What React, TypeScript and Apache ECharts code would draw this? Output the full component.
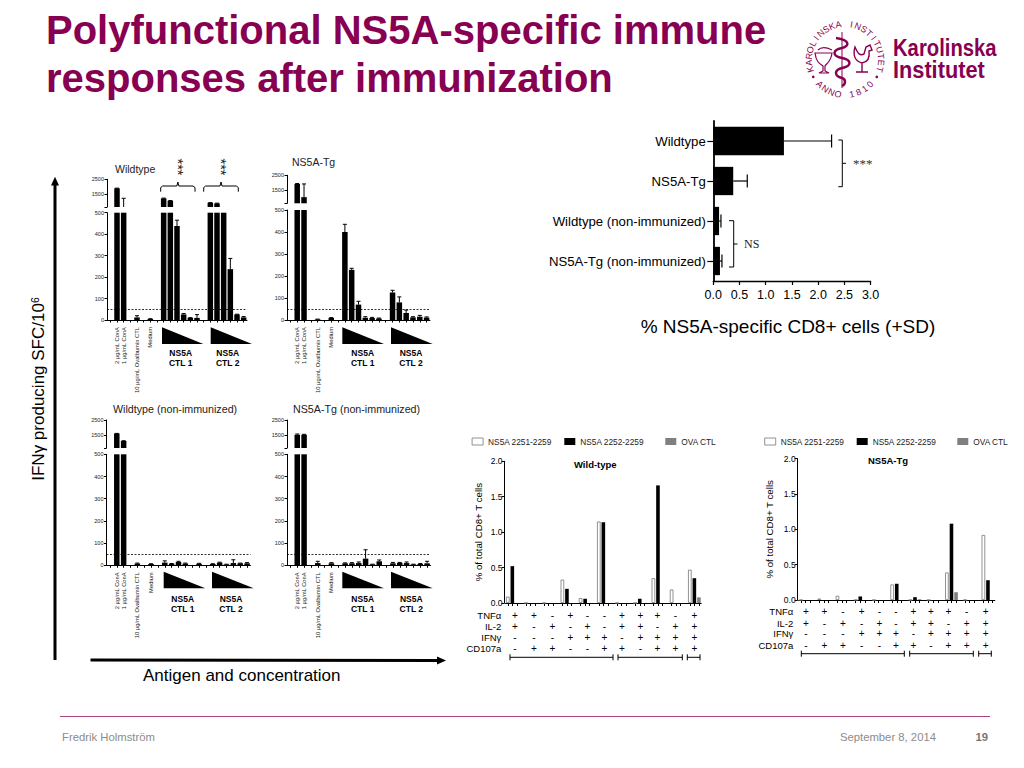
import React, { useEffect, useRef } from "react";
import * as echarts from "echarts";

// ---------- Data ----------
const panelCategories = ["", "2 µg/mL ConA", "1 µg/mL ConA", "", "10 µg/mL Ovalbumin CTL", "", "Medium", "", "c1", "c2", "c3", "c4", "c5", "c6", "", "d1", "d2", "d3", "d4", "d5", "d6"];
const wtValues = [0, 1890, 520, 0, 12, 0, 5, 0, 1207, 1045, 438, 26, 10, 10, 0, 908, 867, 540, 237, 26, 12];
const wtTops = [0, 1900, 1210, 0, 20, 0, 6, 0, 1225, 1060, 465, 30, 11, 25, 0, 920, 880, 620, 287, 27, 16];
const tgValues = [0, 1920, 1033, 0, 3, 0, 9, 0, 400, 228, 70, 10, 9, 7, 0, 125, 80, 32, 12, 15, 11];
const tgTops = [0, 1950, 1920, 0, 4, 0, 11, 0, 435, 235, 85, 15, 12, 9, 0, 135, 105, 45, 15, 21, 14];
const wtNiValues = [0, 1595, 1090, 0, 8, 0, 6, 0, 12, 7, 15, 8, 1, 7, 0, 6, 12, 4, 10, 9, 9];
const wtNiTops = [0, 1600, 1110, 0, 10, 0, 7, 0, 20, 8, 18, 10, 1, 9, 0, 7, 14, 5, 25, 10, 12];
const tgNiValues = [0, 1510, 1510, 0, 10, 0, 9, 0, 9, 9, 10, 30, 4, 18, 0, 9, 11, 10, 4, 6, 9];
const tgNiTops = [0, 1560, 1540, 0, 18, 0, 12, 0, 11, 12, 15, 70, 5, 24, 0, 13, 13, 15, 5, 8, 18];

const cd8Categories = ["Wildtype", "NS5A-Tg", "Wildtype (non-immunized)", "NS5A-Tg (non-immunized)"];
const cd8Values = [1.347, 0.38, 0.11, 0.127];
const cd8Tops = [2.256, 0.648, 0.146, 0.165];

const seriesNames = ["NS5A 2251-2259", "NS5A 2252-2259", "OVA CTL"];
const wildWhite = [0.09, 0, 0, 0.33, 0.07, 1.15, 0, 0, 0.35, 0.19, 0.47];
const wildBlack = [0.52, 0, 0, 0.2, 0.06, 1.14, 0, 0.06, 1.66, 0, 0.35];
const wildGray = [0, 0, 0, 0, 0, 0, 0, 0, 0, 0, 0.08];
const tgWhite = [0, 0.02, 0.06, 0, 0, 0.22, 0, 0, 0.39, 0, 0.92];
const tgBlack = [0, 0, 0, 0.05, 0, 0.23, 0.04, 0, 1.08, 0, 0.28];
const tgGray = [0, 0, 0, 0, 0, 0, 0.01, 0, 0.11, 0, 0];

const rowNames = ["TNFα", "IL-2", "IFNγ", "CD107a"];
const rowSigns = [
  ["+", "+", "-", "+", "-", "-", "+", "+", "+", "-", "+"],
  ["+", "-", "+", "-", "+", "-", "+", "+", "-", "+", "+"],
  ["-", "-", "-", "+", "+", "+", "-", "+", "+", "+", "+"],
  ["-", "+", "+", "-", "-", "+", "+", "-", "+", "+", "+"],
];

// ---------- Layout ----------
const FONT = "Liberation Sans";
const PLUM = "#870052";
const UP_MIN = 620;
const panelBoxes = [
  { v: wtValues, t: wtTops, left: 107, width: 140, upTop: 179.3, upBot: 207, loTop: 212.7, loBot: 320 },
  { v: tgValues, t: tgTops, left: 287, width: 143, upTop: 175.3, upBot: 203.3, loTop: 210, loBot: 320 },
  { v: wtNiValues, t: wtNiTops, left: 106.5, width: 144, upTop: 420, upBot: 448, loTop: 454.3, loBot: 565.3 },
  { v: tgNiValues, t: tgNiTops, left: 287, width: 143.5, upTop: 420, upBot: 448, loTop: 454.3, loBot: 565.3 },
];

const T = (text: string, x: number, y: number, size: number, o: any = {}) => ({
  type: "text",
  x,
  y,
  rotation: o.rotation || 0,
  scaleX: o.scaleX ?? 1,
  silent: true,
  style: {
    text,
    fontSize: size,
    fontFamily: o.family || FONT,
    fontWeight: o.weight || "normal",
    fill: o.fill || "#000",
    align: o.align || "left",
    verticalAlign: "middle",
    rich: o.rich,
  },
});
const P = (points: number[][], lineWidth = 1, stroke = "#000") => ({
  type: "polyline",
  silent: true,
  shape: { points },
  style: { stroke, fill: "none", lineWidth },
});
const F = (points: number[][], fill = "#000") => ({
  type: "polygon",
  silent: true,
  shape: { points },
  style: { fill },
});

function errV(params: any, api: any) {
  const a = api.coord([api.value(0), api.value(1)]);
  const b = api.coord([api.value(0), api.value(2)]);
  const s = { stroke: "#000", lineWidth: 1 };
  return {
    type: "group",
    children: [
      { type: "line", shape: { x1: a[0], y1: a[1], x2: b[0], y2: b[1] }, style: s },
      { type: "line", shape: { x1: b[0] - 2, y1: b[1], x2: b[0] + 2, y2: b[1] }, style: s },
    ],
  };
}
function errH(params: any, api: any) {
  const a = api.coord([api.value(0), api.value(1)]);
  const b = api.coord([api.value(2), api.value(1)]);
  const s = { stroke: "#000", lineWidth: 1.2 };
  return {
    type: "group",
    children: [
      { type: "line", shape: { x1: a[0], y1: a[1], x2: b[0], y2: b[1] }, style: s },
      { type: "line", shape: { x1: b[0], y1: b[1] - 6.5, x2: b[0], y2: b[1] + 6.5 }, style: s },
    ],
  };
}

function buildOption() {
  const grid: any[] = [];
  const xAxis: any[] = [];
  const yAxis: any[] = [];
  const series: any[] = [];
  const axisLine = { lineStyle: { color: "#000", width: 1 } };

  // small broken-axis panels
  panelBoxes.forEach((p) => {
    const iUp = grid.length;
    grid.push({ left: p.left, width: p.width, top: p.upTop, height: p.upBot - p.upTop });
    xAxis.push({ type: "category", gridIndex: iUp, data: panelCategories, show: false });
    yAxis.push({
      type: "value", gridIndex: iUp, min: UP_MIN, max: 2500, splitLine: { show: false },
      axisLine: { show: true, ...axisLine },
      axisTick: { show: true, length: 2.5, lineStyle: { color: "#000" }, customValues: [UP_MIN, 1500, 2500] },
      axisLabel: { fontSize: 5.5, margin: 3, color: "#222", customValues: [1500, 2500], fontFamily: FONT, formatter: (v: number) => String(v) },
    });
    const iLo = grid.length;
    grid.push({ left: p.left, width: p.width, top: p.loTop, height: p.loBot - p.loTop });
    xAxis.push({
      type: "category", gridIndex: iLo, data: panelCategories,
      axisLine: { show: true, ...axisLine },
      axisTick: { show: true, length: 2.5, alignWithLabel: true, interval: 0, lineStyle: { color: "#000" } },
      axisLabel: {
        interval: 0, rotate: 90, fontSize: 5.8, margin: 7, color: "#222", fontFamily: FONT,
        formatter: (v: string) => (/^[cd]\d$/.test(v) ? "" : v),
      },
    });
    yAxis.push({
      type: "value", gridIndex: iLo, min: 0, max: 500, interval: 100, splitLine: { show: false },
      axisLine: { show: true, ...axisLine },
      axisTick: { show: true, length: 2.5, lineStyle: { color: "#000" } },
      axisLabel: { fontSize: 5.5, margin: 3, color: "#222", fontFamily: FONT },
    });
    series.push({
      type: "bar", xAxisIndex: iUp, yAxisIndex: iUp, barWidth: 5.5, silent: true,
      itemStyle: { color: "#000" }, data: p.v.map((x) => (x > UP_MIN ? x : null)),
    });
    series.push({
      type: "custom", xAxisIndex: iUp, yAxisIndex: iUp, clip: true, silent: true, renderItem: errV,
      encode: { x: 0, y: [1, 2] },
      data: p.v.map((x, i) => [i, x, p.t[i]]).filter((d) => d[2] > UP_MIN),
    });
    series.push({
      type: "bar", xAxisIndex: iLo, yAxisIndex: iLo, barWidth: 5.5, silent: true,
      itemStyle: { color: "#000" }, data: p.v,
      markLine: {
        silent: true, symbol: "none", label: { show: false },
        lineStyle: { color: "#000", type: [2, 1.5], width: 0.8 }, data: [{ yAxis: 50 }],
      },
    });
    series.push({
      type: "custom", xAxisIndex: iLo, yAxisIndex: iLo, clip: true, silent: true, renderItem: errV,
      encode: { x: 0, y: [1, 2] },
      data: p.v.map((x, i) => [i, x, p.t[i]]).filter((d) => d[2] > d[1]),
    });
  });

  // % CD8 horizontal bars
  const iH = grid.length;
  grid.push({ left: 713.3, width: 157.3, top: 121, height: 160 });
  xAxis.push({
    type: "value", gridIndex: iH, min: 0, max: 3, interval: 0.5, splitLine: { show: false },
    axisLine: { show: true, lineStyle: { color: "#000", width: 1.3 } },
    axisTick: { show: true, length: 4, lineStyle: { color: "#000", width: 1.2 } },
    axisLabel: { fontSize: 12.5, margin: 7, color: "#000", fontFamily: FONT, formatter: (v: number) => v.toFixed(1) },
    name: "% NS5A-specific CD8+ cells (+SD)", nameLocation: "middle", nameGap: 36,
    nameTextStyle: { fontSize: 19, color: "#000", fontFamily: FONT, padding: [0, 8, 0, 0] },
  });
  yAxis.push({
    type: "category", gridIndex: iH, inverse: true, data: cd8Categories,
    axisLine: { show: true, lineStyle: { color: "#000", width: 1.8 } },
    axisTick: { show: true, length: 6, alignWithLabel: true, lineStyle: { color: "#000", width: 1.2 } },
    axisLabel: { fontSize: 13.2, margin: 7.5, color: "#000", fontFamily: FONT, interval: 0 },
  });
  series.push({
    type: "bar", xAxisIndex: iH, yAxisIndex: iH, barWidth: 28.3, silent: true,
    itemStyle: { color: "#000" }, data: cd8Values,
  });
  series.push({
    type: "custom", xAxisIndex: iH, yAxisIndex: iH, silent: true, renderItem: errH,
    encode: { x: [0, 2], y: 1 },
    data: cd8Values.map((v, i) => [v, i, cd8Tops[i]]),
  });

  // polyfunctionality grouped bars
  const slots = Array.from({ length: 43 }, (_, i) => String(i));
  const styles = [
    { color: "#fff", borderColor: "#777", borderWidth: 0.8 },
    { color: "#000" },
    { color: "#7f7f7f" },
  ];
  const addPoly = (left: number, width: number, top: number, bottom: number, sets: number[][], gap: number) => {
    const i = grid.length;
    grid.push({ left, width, top, height: bottom - top });
    xAxis.push({
      type: "category", gridIndex: i, data: slots,
      axisLine: { show: true, ...axisLine },
      axisTick: { show: true, length: 3, alignWithLabel: true, interval: (n: number) => n % 4 !== 3, lineStyle: { color: "#000" } },
      axisLabel: { show: false },
    });
    yAxis.push({
      type: "value", gridIndex: i, min: 0, max: 2, interval: 0.5, offset: 1, splitLine: { show: false },
      axisLine: { show: true, ...axisLine },
      axisTick: { show: true, length: 3, lineStyle: { color: "#000" } },
      axisLabel: { fontSize: 8.5, margin: 2, color: "#000", fontFamily: FONT, formatter: (v: number) => v.toFixed(1) },
      name: "% of total CD8+ T cells", nameLocation: "middle", nameGap: gap,
      nameTextStyle: { fontSize: 9.7, color: "#000", fontFamily: FONT },
    });
    sets.forEach((vals, k) => {
      const data = slots.map(() => null as number | null);
      vals.forEach((v, g) => { data[g * 4 + k] = v; });
      series.push({
        type: "bar", name: seriesNames[k], xAxisIndex: i, yAxisIndex: i, barWidth: 3.6, barGap: "-100%",
        silent: true, itemStyle: styles[k], data,
      });
    });
  };
  addPoly(505.5, 195.7, 461.3, 603, [wildWhite, wildBlack, wildGray], 21);
  addPoly(798.7, 196.1, 458.7, 600, [tgWhite, tgBlack, tgGray], 23);

  const lg = (name: string, left: number, k: number) => ({
    data: [name], left, top: 437.5, padding: 0, itemWidth: 11, itemHeight: 7, selectedMode: false,
    icon: "rect", itemStyle: k === 0 ? { borderWidth: 0.8, borderColor: "#777" } : {},
    textStyle: { fontSize: 8.3, color: "#222", fontFamily: FONT },
  });
  const legend = [
    lg(seriesNames[0], 471.7, 0), lg(seriesNames[1], 564.3, 1), lg(seriesNames[2], 665.3, 2),
    lg(seriesNames[0], 764.3, 0), lg(seriesNames[1], 856.7, 1), lg(seriesNames[2], 957.3, 2),
  ];

  // ---------- Graphic texts and annotations ----------
  const g: any[] = [];
  g.push(T("Polyfunctional NS5A-specific immune", 46, 30, 40, { weight: "bold", fill: PLUM }));
  g.push(T("responses after immunization", 46, 78, 40, { weight: "bold", fill: PLUM }));

  // panel titles
  g.push(T("Wildtype", 115, 169, 10.5, { fill: "#222" }));
  g.push(T("NS5A-Tg", 292, 162, 10.5, { fill: "#222" }));
  g.push(T("Wildtype (non-immunized)", 113, 409, 10.7, { fill: "#222" }));
  g.push(T("NS5A-Tg (non-immunized)", 293, 409, 10.7, { fill: "#222" }));

  // significance brackets
  [[160.7, 195], [203.7, 238.3]].forEach(([a, b]) => {
    const m = (a + b) / 2;
    g.push(P([[a, 191.7], [a, 187.5], [a + 2, 186], [m - 1, 186], [m, 182], [m + 1, 186], [b - 2, 186], [b, 187.5], [b, 191.7]], 1));
    g.push(T("***", m, 167, 14.5, { rotation: -Math.PI / 2, align: "center", fill: "#222" }));
  });

  // triangles and CTL labels
  const tri = (x0: number, x1: number, y0: number, y1: number) => g.push(F([[x0, y0], [x1, y1], [x0, y1]]));
  const ctl = (cx: number, y: number, n: number) => {
    g.push(T("NS5A", cx, y, 8.5, { weight: "bold", align: "center" }));
    g.push(T("CTL " + n, cx, y + 10, 8.5, { weight: "bold", align: "center" }));
  };
  tri(162, 203.3, 327.3, 344); tri(210.7, 252, 327.3, 344);
  tri(342.3, 384, 327.3, 344); tri(391, 432.7, 327.3, 344);
  tri(163.7, 205.3, 571.7, 588.3); tri(212, 253.7, 571.7, 588.3);
  tri(342.3, 384, 571.7, 588.3); tri(391, 432.7, 571.7, 588.3);
  ctl(180.7, 353, 1); ctl(227.7, 353, 2);
  ctl(362.7, 353, 1); ctl(411, 353, 2);
  ctl(182.7, 599, 1); ctl(231, 599, 2);
  ctl(362.7, 599, 1); ctl(411.3, 599, 2);

  // big arrows
  g.push(P([[55, 660], [55, 184]], 3));
  g.push(F([[55, 176.7], [59, 185.5], [51, 185.5]]));
  g.push(P([[90.5, 660], [438, 660.5]], 3));
  g.push(F([[446, 660.5], [437, 656.5], [437, 664.5]]));
  g.push(T("IFNγ producing SFC/10{s|6}", 38, 389, 17, {
    rotation: Math.PI / 2, align: "center", rich: { s: { fontSize: 10.5, verticalAlign: "top", fontFamily: FONT, fill: "#000", padding: [0, 0, 7, 0] } },
  }));
  g.push(T("Antigen and concentration", 143, 675, 17));

  // top-right brackets
  g.push(P([[838.3, 140], [842.3, 140], [842.3, 186.7], [838.3, 186.7]], 1));
  g.push(P([[842.3, 163.3], [846, 163.3]], 1));
  g.push(T("***", 853, 163, 13, { family: "Liberation Serif", fill: "#333" }));
  g.push(P([[729, 220.7], [733.7, 220.7], [733.7, 267], [729, 267]], 1));
  g.push(P([[733.7, 244], [737.5, 244]], 1));
  g.push(T("NS", 744, 244, 12, { family: "Liberation Serif", fill: "#222" }));

  // bottom table texts
  g.push(T("Wild-type", 595.3, 464, 9.5, { weight: "bold", align: "center" }));
  g.push(T("NS5A-Tg", 888, 460.3, 9.5, { weight: "bold", align: "center" }));
  const table = (xs: number[], ys: number[], right: number) => {
    rowNames.forEach((name, r) => {
      g.push(T(name, right, ys[r], 9.5, { align: "right" }));
      rowSigns[r].forEach((s, c) => g.push(T(s, xs[c], ys[r], 10, { align: "center" })));
    });
  };
  table([515, 534, 552.3, 570.3, 587.3, 604.3, 622, 640.3, 657.3, 675.3, 694.3], [615, 626.7, 637.3, 648.7], 501.3);
  table([806, 824.3, 843, 861.7, 879.3, 896, 913.3, 931, 948.3, 966.7, 985.7], [611.7, 623, 633.7, 645.3], 793.3);
  const span = (a: number, b: number, y: number) => {
    g.push(P([[a, y], [b, y]], 1));
    g.push(P([[a, y - 3], [a, y + 3]], 1));
    g.push(P([[b, y - 3], [b, y + 3]], 1));
  };
  span(510, 613, 657.3); span(618, 682.3, 657.3); span(687.3, 700, 657.3);
  span(801.3, 904.3, 653.7); span(909.7, 973.3, 653.7); span(978.7, 991.3, 653.7);

  // footer
  g.push(P([[60, 716.5], [990, 716.5]], 1, "#a8467f"));
  g.push(T("Fredrik Holmström", 62, 737, 11.3, { fill: "#8c8c8c" }));
  g.push(T("September 8, 2014", 936, 737, 11.3, { fill: "#8c8c8c", align: "right" }));
  g.push(T("19", 988, 737, 11.3, { fill: "#777", weight: "bold", align: "right" }));

  // logo
  const cx = 845, cy = 60;
  const ring = "KAROLINSKA INSTITUTET";
  Array.from(ring).forEach((ch, i) => {
    const a = ((-105 + (210 * i) / (ring.length - 1)) * Math.PI) / 180;
    g.push(T(ch, cx + 36 * Math.sin(a), cy - 36 * Math.cos(a), 9, { rotation: -a, align: "center", fill: PLUM }));
  });
  const anno = "ANNO 1810";
  Array.from(anno).forEach((ch, i) => {
    const a = ((-46 + (92 * i) / (anno.length - 1)) * Math.PI) / 180;
    g.push(T(ch, cx + 35 * Math.sin(a), cy + 35 * Math.cos(a), 9, { rotation: a, align: "center", fill: PLUM }));
  });
  [-62, 62].forEach((d) => {
    const a = (d * Math.PI) / 180;
    g.push({ type: "circle", silent: true, shape: { cx: cx + 36 * Math.sin(a), cy: cy + 36 * Math.cos(a), r: 1.3 }, style: { fill: PLUM } });
  });
  g.push({ type: "kiSnake", silent: true, x: 0, y: 0, style: { stroke: PLUM, fill: "none", lineWidth: 2.4 } });
  g.push({ type: "kiStaff", silent: true, x: 0, y: 0, style: { stroke: PLUM, fill: "none", lineWidth: 1 } });
  g.push({ type: "kiCup", silent: true, x: 0, y: 0, style: { stroke: PLUM, fill: "#fff", lineWidth: 1.2 } });
  g.push({ type: "kiBird", silent: true, x: 0, y: 0, style: { stroke: PLUM, fill: "none", lineWidth: 1.4 } });
  g.push(T("Karolinska", 893, 48, 24.7, { weight: "bold", fill: PLUM, scaleX: 0.82 }));
  g.push(T("Institutet", 893, 70, 24.7, { weight: "bold", fill: PLUM, scaleX: 0.88 }));

  return {
    animation: false,
    backgroundColor: "#fff",
    textStyle: { fontFamily: FONT },
    grid, xAxis, yAxis, series, legend,
    graphic: { elements: g },
  };
}

let shapesReady = false;
function registerShapes() {
  if (shapesReady) return;
  shapesReady = true;
  const gr: any = echarts.graphic;
  gr.registerShape("kiSnake", gr.extendPath("M836 38 C850 40 850 46 842 48 C832 50 832 56 842 58 C852 60 852 66 842 68 C834 70 834 76 842 78 C846 79 846 84 842 86", {}));
  gr.registerShape("kiStaff", gr.extendPath("M842 32 L842 88", {}));
  gr.registerShape("kiCup", gr.extendPath("M815 53 L832 53 C831 62 826 64 825 66 L825 71 L829 73 L819 73 L823 71 L823 66 C820 64 816 62 815 53 Z M818 50 C822 46 828 48 832 50", {}));
  gr.registerShape("kiBird", gr.extendPath("M856 72 L868 72 M862 72 L862 63 C854 61 853 54 855 47 C858 54 860 56 864 54 L866 47 L870 45 L872 50 L869 51 C870 58 868 62 862 63", {}));
}

export default function App() {
  const ref = useRef<HTMLDivElement>(null);
  useEffect(() => {
    document.body.style.margin = "0";
    registerShapes();
    const chart = echarts.init(ref.current!, undefined, { renderer: "svg" });
    chart.setOption(buildOption() as any);
    return () => chart.dispose();
  }, []);
  return <div ref={ref} style={{ position: "absolute", left: 0, top: 0, width: 1024, height: 768 }} />;
}
